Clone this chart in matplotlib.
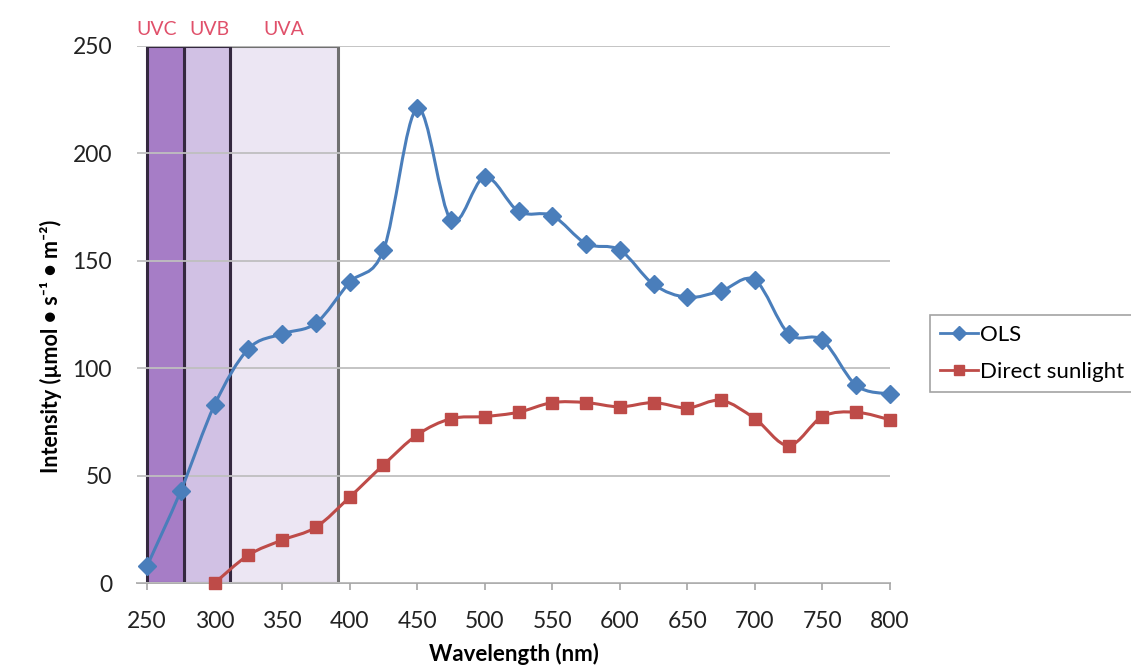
import numpy as np
import matplotlib.pyplot as plt
from matplotlib.path import Path
from matplotlib.patches import PathPatch, Rectangle
from matplotlib.lines import Line2D

plt.rcParams['font.family'] = ['Lato', 'DejaVu Sans']

# data
ols_wl = [250, 275, 300, 325, 350, 375, 400, 425, 450, 475, 500, 525,
          550, 575, 600, 625, 650, 675, 700, 725, 750, 775, 800]
ols = [8, 43, 83, 109, 116, 121, 140, 155, 221, 169, 189, 173,
       171, 158, 155, 139, 133, 136, 141, 116, 113, 92, 88]
sun_wl = [300, 325, 350, 375, 400, 425, 450, 475, 500, 525, 550,
          575, 600, 625, 650, 675, 700, 725, 750, 775, 800]
sun = [0, 13, 20, 26, 40, 55, 69, 76.5, 77.5, 79.5, 84,
       84, 82, 84, 81.5, 85, 76.5, 64, 77.5, 79.5, 76]

# UV bands as drawn on the chart
bands = ['UVA', 'UVB', 'UVC']
band_lo = [311, 277, 250]
band_hi = [391, 311, 277]
band_label_x = [351, 296, 257]
band_fc = ['#ece6f3', '#d1c1e4', '#a67dc6']
band_ec = ['#707070', '#34283f', '#34283f']
xticks = [250, 300, 350, 400, 450, 500, 550, 600, 650, 700, 750, 800]
yticks = [0, 50, 100, 150, 200, 250]

blue = '#4a7ebb'
red = '#be4b48'


def smooth_path(x, y):
    # Excel-style smoothed line: cubic Bezier through the points
    pts = np.column_stack([x, y]).astype(float)
    ext = np.vstack([pts[0], pts, pts[-1]])
    verts = [pts[0]]
    codes = [Path.MOVETO]
    for i in range(len(pts) - 1):
        p0, p1, p2, p3 = ext[i], ext[i + 1], ext[i + 2], ext[i + 3]
        verts += [p1 + (p2 - p0) / 6, p2 - (p3 - p1) / 6, p2]
        codes += [Path.CURVE4] * 3
    return Path(verts, codes)


fig = plt.figure(figsize=(11.31, 6.68), dpi=100)
ax = fig.add_axes([137 / 1131, 1 - 583 / 668, 753 / 1131, 537 / 668])

for name, lo, hi, lx, fc, ec in zip(bands, band_lo, band_hi, band_label_x,
                                     band_fc, band_ec):
    ax.add_patch(Rectangle((lo, 0), hi - lo, 250, facecolor=fc, edgecolor=ec,
                           linewidth=2.2, zorder=1))
    ax.text(lx, 1.015, name, transform=ax.get_xaxis_transform(),
            ha='center', va='bottom', fontsize=14, color='#e0506a')

ax.set_xlim(242.5, 800)
ax.set_ylim(0, 250)
ax.set_yticks(yticks)
ax.set_xticks(xticks)
ax.grid(axis='y', color='#bfbfbf', linewidth=1.3, zorder=2)
ax.set_axisbelow(False)
for s in ['top', 'right', 'left']:
    ax.spines[s].set_visible(False)
ax.spines['bottom'].set_color('#a6a6a6')
ax.spines['bottom'].set_linewidth(1.3)
ax.tick_params(axis='y', length=0, pad=18, labelsize=16.5, labelcolor='#222222')
ax.tick_params(axis='x', length=5, width=1.2, color='#a6a6a6', pad=15,
               labelsize=16.5, labelcolor='#222222')

ax.add_patch(PathPatch(smooth_path(ols_wl, ols), fill=False, edgecolor=blue,
                       linewidth=2.2, zorder=4))
ax.plot(ols_wl, ols, linestyle='none', marker='D', markersize=9,
        color=blue, zorder=5, clip_on=False)
ax.add_patch(PathPatch(smooth_path(sun_wl, sun), fill=False, edgecolor=red,
                       linewidth=2.2, zorder=4))
ax.plot(sun_wl, sun, linestyle='none', marker='s', markersize=8.5,
        color=red, zorder=5, clip_on=False)

ax.set_xlabel('Wavelength (nm)', fontsize=16, fontweight='bold', labelpad=8)
ax.set_ylabel('Intensity (µmol • s⁻¹ • m⁻²)', fontsize=15.5, fontweight='bold')
ax.yaxis.set_label_coords(-0.1, 0.44)

handles = [Line2D([], [], color=blue, marker='D', markersize=7, linewidth=2),
           Line2D([], [], color=red, marker='s', markersize=7, linewidth=2)]
leg = fig.legend(handles, ['OLS', 'Direct sunlight'], loc='upper left',
                 bbox_to_anchor=(930 / 1131, 1 - 315 / 668), fontsize=16,
                 frameon=True, fancybox=False, edgecolor='#8c8c8c',
                 handlelength=1.7, handletextpad=0.1, borderpad=0.45,
                 labelspacing=0.75, borderaxespad=0)
leg.get_frame().set_linewidth(1.2)

fig.savefig('out.png', dpi=100)
